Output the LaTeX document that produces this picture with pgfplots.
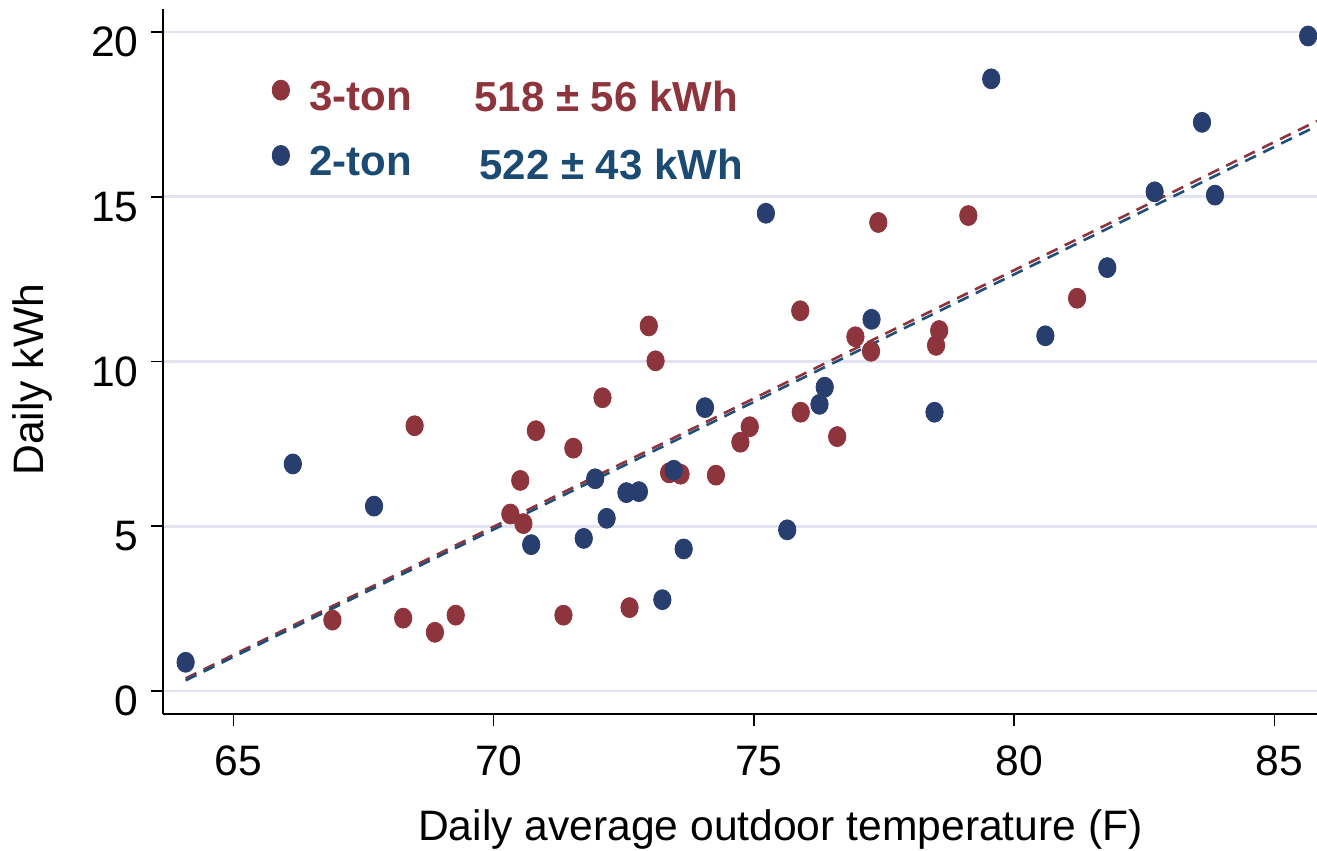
\documentclass[border=0pt]{standalone}
\usepackage{fontspec}
\setmainfont{Liberation Sans}
\usepackage{pgfplots}
\usepackage{pgfplotstable}
\pgfplotsset{compat=1.18}
\definecolor{tonred}{RGB}{142,52,60}
\definecolor{tonblue}{RGB}{39,62,110}
\definecolor{txtblue}{RGB}{27,74,114}
\definecolor{lineblue}{RGB}{31,78,121}
\definecolor{gridc}{RGB}{225,228,240}

\pgfplotstableread{
x y
66.90 2.15
68.26 2.21
68.48 8.05
68.87 1.78
69.27 2.30
70.32 5.37
70.51 6.39
70.57 5.08
70.81 7.90
71.34 2.30
71.53 7.37
72.09 8.90
72.61 2.53
72.98 11.08
73.11 10.02
73.37 6.62
73.59 6.58
74.27 6.55
74.74 7.55
74.92 8.02
75.89 11.54
75.90 8.46
76.60 7.72
76.95 10.75
77.25 10.31
77.39 14.22
78.50 10.49
78.56 10.94
79.12 14.43
81.21 11.92
}\threeton

\pgfplotstableread{
x y
64.08 0.87
66.14 6.89
67.70 5.61
70.72 4.44
71.73 4.63
71.95 6.44
72.17 5.24
72.55 6.02
72.79 6.05
73.24 2.77
73.46 6.70
73.65 4.31
74.06 8.60
75.23 14.50
75.64 4.89
76.26 8.70
76.36 9.22
77.26 11.28
78.47 8.46
79.56 18.58
80.60 10.78
81.79 12.85
82.70 15.15
83.61 17.26
83.86 15.05
85.65 19.88
}\twoton

\begin{document}
\begin{tikzpicture}
\begin{axis}[
  scale only axis, width=577pt, height=352.5pt,
  xmin=63.645, xmax=85.82, ymin=-0.70, ymax=20.70,
  axis x line*=bottom, axis y line*=left,
  axis line style={-, black, line width=0.75pt},
  xtick={65,70,75,80,85}, ytick={0,5,10,15,20},
  tick align=outside, major tick length=6pt,
  tick style={black, line width=0.75pt},
  ymajorgrids, grid style={gridc, line width=1.3pt},
  font=\fontsize{21.3}{25}\selectfont,
  ticklabel style={font=\fontsize{21.3}{25}\selectfont},
  xticklabel style={yshift=-6.5pt, xshift=2.5pt},
  yticklabel style={xshift=-2.75pt, yshift=-5pt},
  /pgf/number format/assume math mode=true,
  xlabel={Daily average outdoor temperature (F)},
  ylabel={Daily kWh},
  xlabel style={at={(axis description cs:0.535,-0.1645)}, anchor=center},
  ylabel style={at={(axis description cs:-0.1135,0.474)}, anchor=center},
  legend style={draw=none, fill=none, font=\bfseries\fontsize{21}{25}\selectfont,
    at={(axis cs:65.62,18.77)}, anchor=north west, row sep=12.5pt,
    /tikz/every odd column/.append style={column sep=8pt}},
  legend image post style={yshift=3.5pt},
  legend cell align=left,
]
\addplot[tonred, dash pattern=on 6pt off 4pt, line width=1.3pt, forget plot] coordinates {(64.08,0.38) (85.82,17.30)};
\addplot[lineblue, dash pattern=on 6pt off 4pt, line width=1.3pt, forget plot] coordinates {(64.08,0.32) (85.82,17.15)};
\addplot[only marks, mark=*, mark size=5pt, mark options={xscale=0.87, draw=tonred, fill=tonred}] table {\threeton};
\addlegendentry{\textcolor{tonred}{3-ton}}
\addplot[only marks, mark=*, mark size=5pt, mark options={xscale=0.87, draw=tonblue, fill=tonblue}] table {\twoton};
\addlegendentry{\textcolor{txtblue}{2-ton}}
\node[anchor=base west, inner sep=0, text=tonred, font=\bfseries\fontsize{21}{25}\selectfont] at (axis cs:69.62,17.59) {518 ± 56 kWh};
\node[anchor=base west, inner sep=0, text=txtblue, font=\bfseries\fontsize{21}{25}\selectfont] at (axis cs:69.72,15.51) {522 ± 43 kWh};
\end{axis}
\pgfresetboundingbox
\path (-81.5pt,-68.5pt) rectangle (577pt,357pt);
\end{tikzpicture}
\end{document}
